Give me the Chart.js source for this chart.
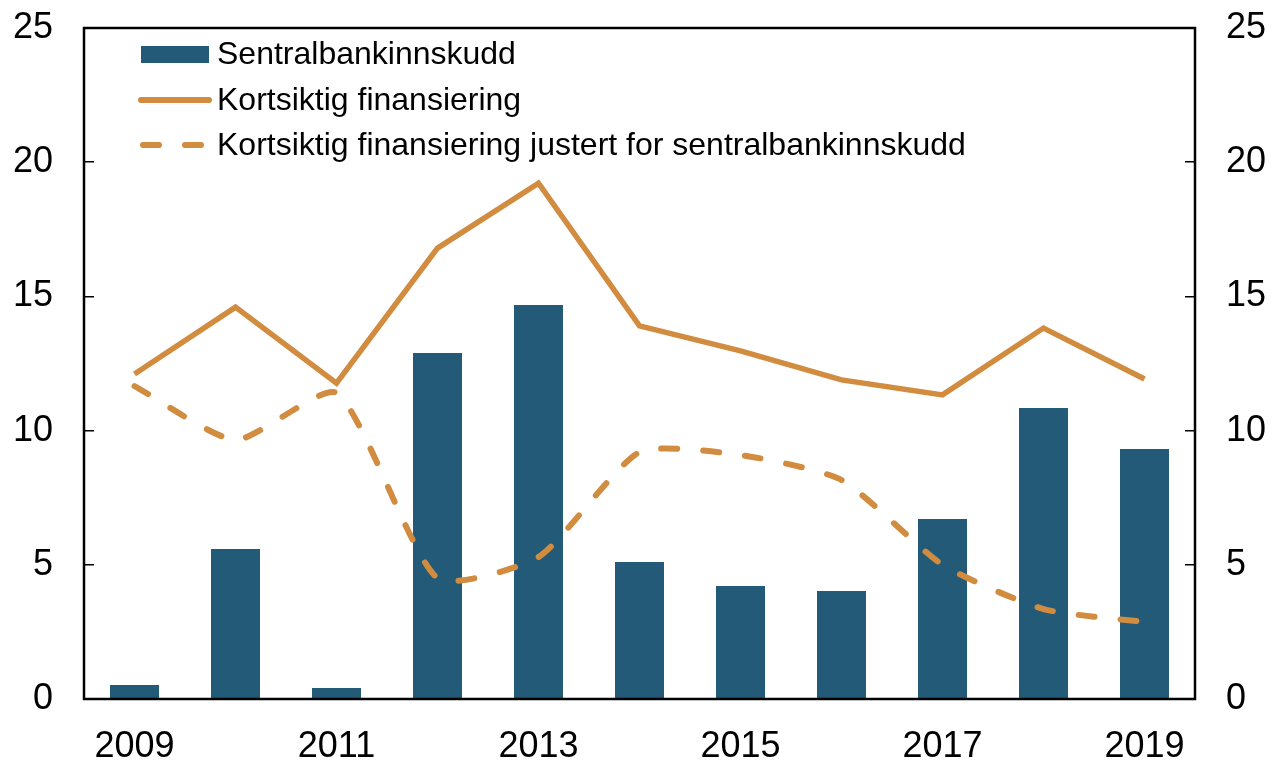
<!DOCTYPE html>
<html>
<head>
<meta charset="utf-8">
<script src="https://cdn.jsdelivr.net/npm/chart.js@4.4.1/dist/chart.umd.min.js"></script>
<style>
  html, body { margin: 0; padding: 0; background: #fff; }
  #wrap { width: 1276px; height: 762px; }
</style>
</head>
<body>
<div id="wrap"><canvas id="finansiering" width="1276" height="762"></canvas></div>
<script>
var years = ["2009", "2010", "2011", "2012", "2013", "2014", "2015", "2016", "2017", "2018", "2019"];
var innskudd = [0.52, 5.59, 0.41, 12.89, 14.68, 5.10, 4.21, 4.02, 6.71, 10.84, 9.31];
var kortsiktig = [12.11, 14.6, 11.77, 16.8, 19.22, 13.9, 12.97, 11.89, 11.33, 13.82, 11.92];
var justert = [11.66, 9.65, 11.4, 4.5, 5.29, 9.2, 9.09, 8.16, 5.0, 3.35, 2.87];
var yTicks = [0, 5, 10, 15, 20, 25];

var blue = "#225a78";
var orange = "#d18c40";
var font = "'Liberation Sans', Arial, sans-serif";
var dash = [16, 26];

// legend and frame drawn by hand, top-left inside the plot
var frameAndLegend = {
  id: "frameAndLegend",
  afterDraw: function (chart) {
    var ctx = chart.ctx;
    var a = chart.chartArea;
    ctx.save();
    ctx.strokeStyle = "#000";
    ctx.lineWidth = 2.5;
    ctx.strokeRect(a.left, a.top, a.right - a.left, a.bottom - a.top);

    var x0 = a.left + 57;
    var tx = a.left + 133;
    var rows = [a.top + 26, a.top + 72, a.top + 117];
    ctx.fillStyle = blue;
    ctx.fillRect(x0, rows[0] - 8, 68, 17);

    ctx.strokeStyle = orange;
    ctx.lineWidth = 6;
    ctx.lineCap = "round";
    ctx.beginPath();
    ctx.moveTo(x0, rows[1]);
    ctx.lineTo(x0 + 68, rows[1]);
    ctx.stroke();
    ctx.setLineDash([16, 26]);
    ctx.beginPath();
    ctx.moveTo(x0 + 2, rows[2]);
    ctx.lineTo(x0 + 68, rows[2]);
    ctx.stroke();
    ctx.setLineDash([]);

    ctx.fillStyle = "#000";
    ctx.font = "32px " + font;
    ctx.textBaseline = "middle";
    var labels = chart.data.datasets.map(function (d) { return d.label; });
    for (var i = 0; i < labels.length; i++) {
      ctx.fillText(labels[i], tx, rows[i] + 1);
    }
    ctx.restore();
  }
};

function yAxis(pos, width) {
  return {
    position: pos,
    min: 0,
    max: 25,
    afterBuildTicks: function (s) { s.ticks = yTicks.map(function (v) { return { value: v }; }); },
    afterFit: function (s) { s.width = width; s.paddingTop = 0; s.paddingBottom = 0; },
    border: { display: false },
    grid: { display: true, drawOnChartArea: false, drawTicks: true, tickLength: -10, color: "#000", lineWidth: 1.5 },
    ticks: { color: "#000", font: { size: 36, family: font }, padding: 41 }
  };
}

new Chart(document.getElementById("finansiering"), {
  data: {
    labels: years,
    datasets: [
      {
        type: "bar",
        label: "Sentralbankinnskudd",
        data: innskudd,
        backgroundColor: blue,
        categoryPercentage: 1,
        barPercentage: 0.485,
        yAxisID: "y",
        order: 3
      },
      {
        type: "line",
        label: "Kortsiktig finansiering",
        data: kortsiktig,
        borderColor: orange,
        borderWidth: 5.5,
        pointRadius: 0,
        tension: 0,
        yAxisID: "y",
        order: 1
      },
      {
        type: "line",
        label: "Kortsiktig finansiering justert for sentralbankinnskudd",
        data: justert,
        borderColor: orange,
        borderWidth: 6,
        borderDash: dash,
        borderCapStyle: "round",
        pointRadius: 0,
        tension: 0.2,
        yAxisID: "y",
        order: 2
      }
    ]
  },
  options: {
    responsive: false,
    animation: false,
    layout: { padding: { top: 28, left: 0, right: 0, bottom: 0 } },
    plugins: { legend: { display: false }, tooltip: { enabled: false } },
    scales: {
      x: {
        type: "category",
        offset: true,
        afterFit: function (s) { s.height = 63; s.paddingLeft = 0; s.paddingRight = 0; },
        border: { display: false },
        grid: { display: false },
        ticks: {
          color: "#000",
          font: { size: 36, family: font },
          padding: 18,
          maxRotation: 0,
          autoSkip: false,
          callback: function (v, i) { return i % 2 === 0 ? years[i] : ""; }
        }
      },
      y: yAxis("left", 84),
      y2: yAxis("right", 81)
    }
  },
  plugins: [frameAndLegend]
});
</script>
</body>
</html>
